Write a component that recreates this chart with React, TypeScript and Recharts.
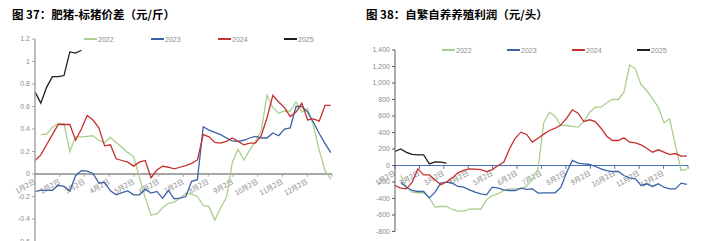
import React from 'react';
import { LineChart, Line, XAxis, YAxis, ReferenceLine } from 'recharts';

// ---------- shared ----------
const MONTH_LABELS = ['1月2日', '2月2日', '3月2日', '4月2日', '5月2日', '6月2日', '7月2日', '8月2日', '9月2日', '10月2日', '11月2日', '12月2日'];
const AXIS_SPAN = 51.2; // weeks covered by the 12 month intervals
const SERIES_NAMES = ['2022', '2023', '2024', '2025'];
const COLORS = ['#a9d08e', '#3b62a8', '#c4302f', '#1f1f1f'];

// ---------- 图37 肥猪-标猪价差（元/斤） weekly ----------
const L_2022 = [null, 0.35, 0.355, 0.415, 0.45, 0.445, 0.2, 0.33, 0.33, 0.335, 0.34, 0.3, 0.28, 0.325, 0.28, 0.235, 0.19, 0.155, -0.03, -0.21, -0.365, -0.355, -0.3, -0.26, -0.25, -0.215, -0.17, -0.18, -0.2, -0.28, -0.29, -0.41, -0.3, -0.21, 0.1, 0.22, 0.125, 0.21, 0.29, 0.385, 0.7, 0.59, 0.54, 0.56, 0.56, 0.64, 0.55, 0.58, 0.43, 0.21, 0.03, -0.045];
const L_2023 = [-0.155, -0.145, -0.145, -0.145, -0.1, -0.11, -0.15, -0.015, 0.03, 0.025, 0.005, -0.08, -0.075, -0.15, -0.185, -0.165, -0.15, -0.185, -0.185, -0.135, -0.17, -0.155, -0.215, -0.145, -0.22, -0.215, -0.2, -0.065, -0.05, 0.42, 0.39, 0.37, 0.35, 0.32, 0.295, 0.29, 0.3, 0.32, 0.335, 0.32, 0.32, 0.365, 0.34, 0.4, 0.41, 0.6, 0.6, 0.55, 0.46, 0.36, 0.27, 0.19];
const L_2024 = [0.12, 0.17, 0.26, 0.35, 0.44, 0.44, 0.44, 0.3, 0.4, 0.52, 0.48, 0.41, 0.25, 0.26, 0.135, 0.12, 0.105, 0.07, 0.105, 0.12, -0.035, 0.035, 0.07, 0.06, 0.045, 0.06, 0.075, 0.095, 0.125, 0.35, 0.33, 0.28, 0.275, 0.29, 0.32, 0.29, 0.26, 0.275, 0.275, 0.34, 0.5, 0.7, 0.64, 0.59, 0.51, 0.55, 0.63, 0.48, 0.49, 0.47, 0.61, 0.61];
const L_2025 = [0.73, 0.63, 0.77, 0.865, 0.865, 0.875, 1.085, 1.075, 1.1];
const L_TICKS = [-0.6, -0.4, -0.2, 0, 0.2, 0.4, 0.6, 0.8, 1, 1.2];

// ---------- 图38 自繁自养养殖利润（元/头） weekly ----------
const R_2022 = [null, -121, -263, -323, -330, -330, -392, -505, -497, -497, -533, -553, -553, -530, -525, -530, -416, -364, -343, -303, -283, -283, -283, -250, -162, -40, 520, 646, 594, 485, 485, 475, 465, 533, 646, 707, 707, 760, 800, 800, 889, 1220, 1172, 978, 909, 808, 707, 517, 566, 240, -60, -48];
const R_2023 = [null, -202, -263, -303, -315, -315, -392, -323, -214, -202, -214, -254, -263, -295, -323, -343, -355, -263, -275, -295, -303, -303, -275, -290, -283, -335, -331, -331, -331, -263, -81, 61, 28, 20, 12, -12, -40, -61, -73, -73, -121, -150, -162, -242, -222, -254, -222, -263, -283, -283, -214, -230];
const R_2024 = [-242, -275, -283, -202, -40, -113, -113, -173, -234, -200, -150, -89, -60, -40, -45, -50, -73, -50, 0, 40, 200, 330, 404, 376, 283, 331, 380, 424, 452, 493, 573, 675, 634, 533, 554, 533, 452, 355, 303, 303, 335, 283, 275, 250, 210, 161, 190, 161, 133, 145, 113, 113];
const R_2025 = [170, 200, 160, 135, 130, 130, 20, 45, 40, 30];
const R_TICKS = [-800, -600, -400, -200, 0, 200, 400, 600, 800, 1000, 1200, 1400];

const WEEK_COUNT = 52;

function buildRows(series: (number | null)[][]) {
  const rows: any[] = [];
  for (let i = 0; i < WEEK_COUNT; i++) {
    const row: any = { i };
    series.forEach((s, k) => {
      const v = s[i];
      row['s' + k] = v === undefined ? null : v;
    });
    rows.push(row);
  }
  return rows;
}

const leftRows = buildRows([L_2022, L_2023, L_2024, L_2025]);
const rightRows = buildRows([R_2022, R_2023, R_2024, R_2025]);
const monthTicks = Array.from({ length: 13 }, (_, k) => (k * AXIS_SPAN) / 12);

const FONT = "'Liberation Sans', Arial, sans-serif";

function MonthLabel(props: any) {
  const { viewBox, text } = props;
  if (!viewBox || !text) return null;
  const x = viewBox.x + 1;
  const y = viewBox.y + 9;
  return (
    <text
      x={x}
      y={y}
      transform={`rotate(-30 ${x} ${y})`}
      textAnchor="end"
      fontSize={7}
      fill="#8c8c8c"
      fontFamily="'Noto Sans CJK SC', sans-serif"
    >
      {text}
    </text>
  );
}

function LegendRow({ xs, y }: { xs: number[]; y: number }) {
  return (
    <>
      {SERIES_NAMES.map((name, k) => (
        <div
          key={name}
          style={{
            position: 'absolute',
            left: xs[k],
            top: y - 5,
            height: 10,
            display: 'flex',
            alignItems: 'center',
            fontSize: 7,
            color: '#8c8c8c',
            fontFamily: FONT,
            whiteSpace: 'nowrap',
          }}
        >
          <span style={{ display: 'inline-block', width: 13, height: 2, background: COLORS[k], marginRight: 1 }} />
          {name}
        </div>
      ))}
    </>
  );
}

function renderLines() {
  return SERIES_NAMES.map((name, k) => (
    <Line
      key={name}
      type="linear"
      dataKey={'s' + k}
      name={name}
      stroke={COLORS[k]}
      strokeWidth={1.3}
      dot={false}
      activeDot={false}
      connectNulls={false}
      isAnimationActive={false}
    />
  ));
}

function renderMonthTicks(tickLen: number, color: string) {
  return monthTicks.map((t, k) => (
    <ReferenceLine
      key={'mt' + k}
      segment={[
        { x: t, y: 0 },
        { x: t, y: -tickLen },
      ]}
      stroke={color}
      strokeWidth={1}
      ifOverflow="visible"
      label={<MonthLabel text={MONTH_LABELS[k]} />}
    />
  ));
}

const titleStyle: React.CSSProperties = {
  position: 'absolute',
  top: 7,
  fontSize: 11.5,
  fontWeight: 700,
  color: '#000',
  fontFamily: "'Noto Sans CJK SC', sans-serif",
  whiteSpace: 'nowrap',
  lineHeight: '14px',
};

export default function App() {
  return (
    <div
      style={{
        position: 'absolute',
        left: 0,
        top: 0,
        width: 728,
        height: 241,
        overflow: 'hidden',
        background: '#fff',
      }}
    >
      <div style={{ ...titleStyle, left: 12 }}>图 37：肥猪-标猪价差（元/斤）</div>
      <div style={{ ...titleStyle, left: 366 }}>图 38：自繁自养养殖利润（元/头）</div>

      <div style={{ position: 'absolute', left: 0, top: 0 }}>
        <LineChart width={364} height={250} data={leftRows} margin={{ top: 39, right: 32, bottom: 8.5, left: 5 }}>
          <XAxis type="number" dataKey="i" domain={[0, AXIS_SPAN]} hide />
          <YAxis
            type="number"
            domain={[-0.6, 1.2]}
            ticks={L_TICKS}
            interval={0}
            width={30}
            axisLine={{ stroke: '#a6a6a6', strokeWidth: 1.5 }}
            tickLine={{ stroke: '#a6a6a6' }}
            tickSize={3}
            tick={{ fontSize: 7, fill: '#8c8c8c', fontFamily: FONT }}
            tickFormatter={(v: number) => String(Math.round(v * 10) / 10)}
          />
          <ReferenceLine y={0} stroke="#a6a6a6" strokeWidth={2} />
          {renderMonthTicks(0.025, '#a6a6a6')}
          {renderLines()}
        </LineChart>
      </div>

      <div style={{ position: 'absolute', left: 364, top: 0 }}>
        <LineChart width={364} height={241} data={rightRows} margin={{ top: 50, right: 40, bottom: 9.5, left: 5 }}>
          <XAxis type="number" dataKey="i" domain={[0, AXIS_SPAN]} hide />
          <YAxis
            type="number"
            domain={[-800, 1400]}
            ticks={R_TICKS}
            interval={0}
            width={26}
            axisLine={{ stroke: '#595959', strokeWidth: 1 }}
            tickLine={{ stroke: '#595959' }}
            tickSize={3}
            tick={{ fontSize: 7, fill: '#8c8c8c', fontFamily: FONT }}
            tickFormatter={(v: number) => v.toLocaleString('en-US')}
          />
          <ReferenceLine y={0} stroke="#4a6fb5" strokeWidth={1} />
          {renderMonthTicks(40, '#4a6fb5')}
          {renderLines()}
        </LineChart>
      </div>

      <LegendRow xs={[84, 151, 218, 284]} y={39} />
      <LegendRow xs={[442, 507, 572, 637]} y={50} />
    </div>
  );
}
